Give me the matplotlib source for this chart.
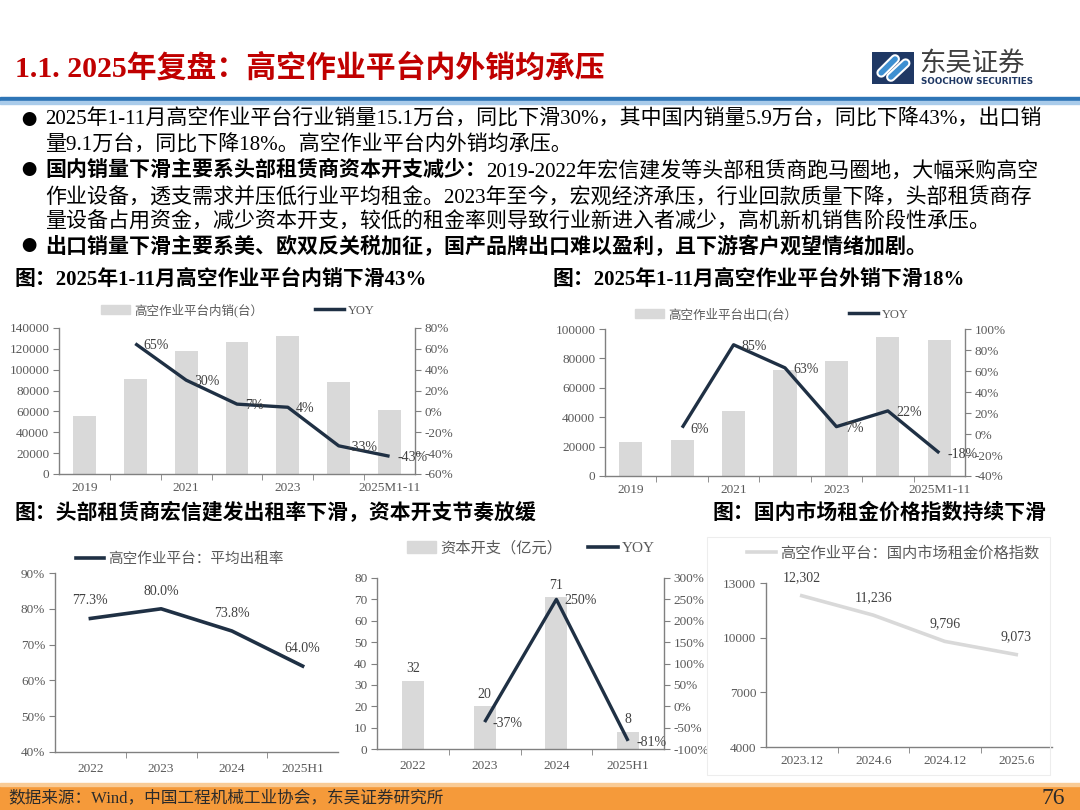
import matplotlib
matplotlib.use('Agg')
import matplotlib.pyplot as plt
from matplotlib.patches import Rectangle, Patch
from matplotlib.lines import Line2D

plt.rcParams['font.family'] = ['Liberation Serif', 'Noto Sans CJK SC']
plt.rcParams['axes.unicode_minus'] = False

W, H = 1080, 810

# ---- 数据 ----
years_a = ['2019', '2020', '2021', '2022', '2023', '2024', '2025M1-11']
dom_sales = [56000, 91000, 118000, 126500, 132000, 88500, 61000]
dom_yoy = [None, 65, 30, 7, 4, -33, -43]
exp_sales = [23200, 24500, 44500, 72300, 78000, 94500, 92300]
exp_yoy = [None, 6, 85, 63, 7, 22, -18]

years_b = ['2022', '2023', '2024', '2025H1']
rent_rate = [77.3, 80.0, 73.8, 64.0]
capex = [32, 20, 71, 8]
capex_yoy = [None, -37, 250, -81]

months = ['2023.12', '2024.6', '2024.12', '2025.6']
rent_index = [12302, 11236, 9796, 9073]

title = '1.1. 2025年复盘：高空作业平台内外销均承压'
bullets = [
    '2025年1-11月高空作业平台行业销量15.1万台，同比下滑30%，其中国内销量5.9万台，同比下降43%，出口销',
    '量9.1万台，同比下降18%。高空作业平台内外销均承压。',
    '2019-2022年宏信建发等头部租赁商跑马圈地，大幅采购高空',
    '作业设备，透支需求并压低行业平均租金。2023年至今，宏观经济承压，行业回款质量下降，头部租赁商存',
    '量设备占用资金，减少资本开支，较低的租金率则导致行业新进入者减少，高机新机销售阶段性承压。',
    '出口销量下滑主要系美、欧双反关税加征，国产品牌出口难以盈利，且下游客户观望情绪加剧。',
]
bold_head = '国内销量下滑主要系头部租赁商资本开支减少：'
source = '数据来源：Wind，中国工程机械工业协会，东吴证券研究所'

BAR = '#D9D9D9'
NAVY = '#1F3044'
SP = '#808080'
TL = '#595959'
TXT = '#404040'

fig = plt.figure(figsize=(10.8, 8.1), dpi=100)


def px_axes(l, t, r, b):
    return fig.add_axes([l / W, 1 - b / H, (r - l) / W, (b - t) / H])


def ftext(x, y, s, **kw):
    return fig.text(x / W, 1 - y / H, s, **kw)


def style(ax, labels, shown, pad=6):
    n = len(labels)
    ax.set_xlim(-0.5, n - 0.5)
    ax.set_xticks(shown)
    ax.set_xticklabels([labels[i] for i in shown])
    ax.set_xticks([i + 0.5 for i in range(n - 1)], minor=True)
    for s in ['top', 'right']:
        ax.spines[s].set_visible(False)
    for s in ['left', 'bottom']:
        ax.spines[s].set_color(SP)
        ax.spines[s].set_linewidth(1)
    ax.tick_params(axis='y', direction='out', length=4, color=SP, labelcolor=TL, labelsize=9.5, pad=3)
    ax.tick_params(axis='x', which='major', length=0, labelcolor=TL, labelsize=9.5, pad=pad)
    ax.tick_params(axis='x', which='minor', length=4, direction='out', color=SP)


def twin(ax, lo, hi, step):
    tw = ax.twinx()
    for s in ['top', 'left', 'bottom']:
        tw.spines[s].set_visible(False)
    tw.spines['right'].set_color(SP)
    tw.spines['right'].set_linewidth(1)
    tw.set_ylim(lo, hi)
    ticks = list(range(lo, hi + 1, step))
    tw.set_yticks(ticks)
    tw.set_yticklabels([f'{v}%' for v in ticks])
    tw.tick_params(axis='y', direction='out', length=4, color=SP, labelcolor=TL, labelsize=9.5, pad=3)
    return tw


def yoy_line(tw, vals, fs=10):
    xs = [i for i, v in enumerate(vals) if v is not None]
    ys = [v for v in vals if v is not None]
    tw.plot(xs, ys, color=NAVY, lw=2.4, solid_capstyle='butt')
    for xi, yi in zip(xs, ys):
        tw.annotate(f'{yi}%', (xi, yi), xytext=(6, -1), textcoords='offset points',
                    ha='left', va='center', fontsize=fs, color=TXT)


def legend(ax, handles, labels, cx, cy, fs, hl, cs):
    ax.legend(handles, labels, loc='center', bbox_to_anchor=(cx / W, 1 - cy / H),
              bbox_transform=fig.transFigure, ncol=len(handles), frameon=False,
              fontsize=fs, handlelength=hl, handleheight=0.8, columnspacing=cs,
              handletextpad=0.3, labelcolor=TL)


# ---- 页眉 ----
ftext(15, 68, title, fontsize=21.5, fontweight='bold', color='#C00000', va='center')
fig.patches.append(Rectangle((0, 1 - 101 / H), 1, 4 / H, transform=fig.transFigure, color='#2E75B6'))
fig.patches.append(Rectangle((0, 1 - 104 / H), 1, 3 / H, transform=fig.transFigure, color='#A9CBEA'))

logo = px_axes(872, 52, 914, 84)
logo.set_xlim(0, 1)
logo.set_ylim(0, 1)
logo.axis('off')
logo.add_patch(Rectangle((0, 0), 1, 1, color='#1F3864'))
logo.plot([0.22, 0.55], [0.35, 0.78], color='white', lw=7, solid_capstyle='round')
logo.plot([0.45, 0.80], [0.22, 0.65], color='white', lw=7, solid_capstyle='round')
logo.plot([0.22, 0.55], [0.35, 0.78], color='#3D8FD1', lw=4, solid_capstyle='round')
logo.plot([0.45, 0.80], [0.22, 0.65], color='#3D8FD1', lw=4, solid_capstyle='round')
ftext(919, 63, '东吴证券', fontsize=19, color='#3F3F3F', va='center', family=['Noto Sans CJK SC'])
ftext(921, 81, 'SOOCHOW SECURITIES', fontsize=6.3, fontweight='bold', color='#1F3864', va='center',
      family=['DejaVu Sans'])

# ---- 正文要点 ----
FS = 15.1
line_y = [120, 146, 171, 197, 222, 247]
for y in [120, 171, 247]:
    ftext(21, y, '●', fontsize=11, color='black', va='center', family=['Noto Sans CJK SC'])
r = fig.canvas.get_renderer()
for i, (y, s) in enumerate(zip(line_y, bullets)):
    if i == 2:
        t = ftext(45, y, bold_head, fontsize=FS, fontweight='bold', va='center')
        bb = t.get_window_extent(renderer=r)
        fig.text(bb.x1 / W, 1 - y / H, s, fontsize=FS, va='center')
    elif i == 5:
        ftext(45, y, s, fontsize=FS, fontweight='bold', va='center')
    else:
        ftext(45, y, s, fontsize=FS, va='center')

# ---- 小标题 ----
ftext(15, 280, '图：2025年1-11月高空作业平台内销下滑43%', fontsize=15, fontweight='bold', va='center')
ftext(553, 280, '图：2025年1-11月高空作业平台外销下滑18%', fontsize=15, fontweight='bold', va='center')
ftext(15, 514, '图：头部租赁商宏信建发出租率下滑，资本开支节奏放缓', fontsize=15, fontweight='bold', va='center')
ftext(712, 514, '图：国内市场租金价格指数持续下滑', fontsize=15, fontweight='bold', va='center')

# ---- 图1 内销 ----
ax1 = px_axes(59, 328, 415, 474)
ax1.bar(range(len(years_a)), dom_sales, width=0.45, color=BAR)
ax1.set_ylim(0, 140000)
ax1.set_yticks(range(0, 140001, 20000))
style(ax1, years_a, [0, 2, 4, 6])
ax1b = twin(ax1, -60, 80, 20)
yoy_line(ax1b, dom_yoy)
legend(ax1, [Patch(color=BAR), Line2D([], [], color=NAVY, lw=2.5)],
       ['高空作业平台内销(台）', 'YOY'], 238, 310, 9, 2.3, 4.2)

# ---- 图2 出口 ----
ax2 = px_axes(605, 329, 965, 476)
ax2.bar(range(len(years_a)), exp_sales, width=0.45, color=BAR)
ax2.set_ylim(0, 100000)
ax2.set_yticks(range(0, 100001, 20000))
style(ax2, years_a, [0, 2, 4, 6])
ax2b = twin(ax2, -40, 100, 20)
yoy_line(ax2b, exp_yoy)
legend(ax2, [Patch(color=BAR), Line2D([], [], color=NAVY, lw=2.5)],
       ['高空作业平台出口(台）', 'YOY'], 772, 314, 9, 2.3, 4.2)

# ---- 图3 出租率 ----
ax3 = px_axes(55, 573, 338, 752)
ax3.plot(range(len(years_b)), rent_rate, color=NAVY, lw=2.6)
ax3.set_ylim(40, 90)
ax3.set_yticks(range(40, 91, 10))
ax3.set_yticklabels([f'{v}%' for v in range(40, 91, 10)])
style(ax3, years_b, [0, 1, 2, 3], pad=8)
for xi, v in enumerate(rent_rate):
    ax3.annotate(f'{v:.1f}%', (xi, v), xytext=(0, 8), textcoords='offset points',
                 ha='center', va='bottom', fontsize=10, color=TXT)
legend(ax3, [Line2D([], [], color=NAVY, lw=2.6)], ['高空作业平台：平均出租率'], 180, 559, 10.5, 1.9, 1)

# ---- 图4 资本开支 ----
ax4 = px_axes(377, 578, 664, 749)
bars = ax4.bar(range(len(years_b)), capex, width=0.31, color=BAR)
ax4.bar_label(bars, padding=4, fontsize=10, color=TXT)
ax4.set_ylim(0, 80)
ax4.set_yticks(range(0, 81, 10))
style(ax4, years_b, [0, 1, 2, 3], pad=8)
ax4b = twin(ax4, -100, 300, 50)
yoy_line(ax4b, capex_yoy)
legend(ax4, [Patch(color=BAR), Line2D([], [], color=NAVY, lw=2.6)],
       ['资本开支（亿元）', 'YOY'], 531, 548, 11, 1.9, 1.7)

# ---- 图5 租金指数 ----
fig.patches.append(Rectangle((707 / W, 1 - 775 / H), 343 / W, 238 / H, transform=fig.transFigure,
                             fill=False, edgecolor='#EDEDED', lw=0.8))
ax5 = px_axes(766, 583, 1052, 747)
ax5.plot(range(len(months)), rent_index, color='#D9D9D9', lw=2.6)
ax5.set_ylim(4000, 13000)
ax5.set_yticks([4000, 7000, 10000, 13000])
style(ax5, months, [0, 1, 2, 3], pad=6)
for xi, v in enumerate(rent_index):
    ax5.annotate(f'{v:,}', (xi, v), xytext=(0, 8), textcoords='offset points',
                 ha='center', va='bottom', fontsize=10, color=TXT)
legend(ax5, [Line2D([], [], color='#D9D9D9', lw=2.6)], ['高空作业平台：国内市场租金价格指数'],
       893, 553, 11, 1.9, 1)

# ---- 页脚 ----
fig.patches.append(Rectangle((0, 0), 1, 24 / H, transform=fig.transFigure, color='#F59A3A'))
fig.patches.append(Rectangle((0, 24 / H), 1, 3 / H, transform=fig.transFigure, color='#F9CB95'))
ftext(8, 799, source, fontsize=12, color='#2B2B2B', va='center')
ftext(1065, 799, '76', fontsize=17, color='#2B2B2B', va='center', ha='right')

fig.savefig('out.png', dpi=100)
